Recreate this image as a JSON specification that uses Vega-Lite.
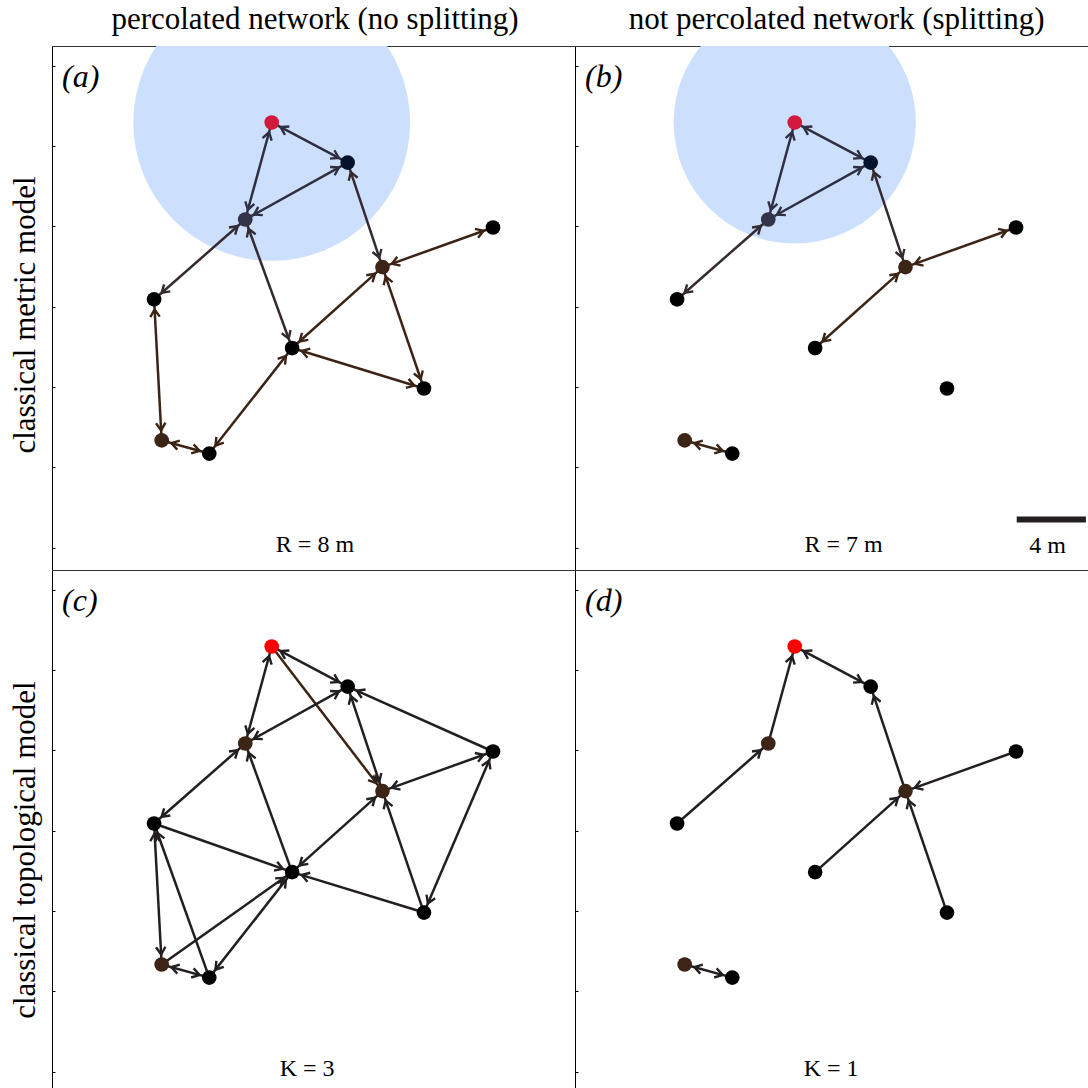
{
  "$schema": "https://vega.github.io/schema/vega-lite/v6.json",
  "padding": {"left": 9, "top": 4, "right": 0, "bottom": 0},
  "config": {
    "font": "Liberation Serif",
    "view": {"stroke": null},
    "concat": {"spacing": 0}
  },
  "datasets": {
    "nodes": [
      {"id": "L", "x": 12.70, "y": 25.87},
      {"id": "N", "x": 17.09, "y": 23.55},
      {"id": "S", "x": 11.17, "y": 20.26},
      {"id": "B1", "x": 19.10, "y": 17.51},
      {"id": "R", "x": 25.49, "y": 19.80},
      {"id": "Lf", "x": 5.90, "y": 15.64},
      {"id": "C", "x": 13.88, "y": 12.83},
      {"id": "RB", "x": 21.50, "y": 10.49},
      {"id": "B2", "x": 6.34, "y": 7.49},
      {"id": "Bt", "x": 9.09, "y": 6.73}
    ],
    "states": [
      {"p": "a", "id": "L", "kind": "crimson"}, {"p": "a", "id": "N", "kind": "navy"}, {"p": "a", "id": "S", "kind": "slate"}, {"p": "a", "id": "B1", "kind": "brown"}, {"p": "a", "id": "R", "kind": "black"},
      {"p": "a", "id": "Lf", "kind": "black"}, {"p": "a", "id": "C", "kind": "black"}, {"p": "a", "id": "RB", "kind": "black"}, {"p": "a", "id": "B2", "kind": "brown"}, {"p": "a", "id": "Bt", "kind": "black"},
      {"p": "b", "id": "L", "kind": "crimson"}, {"p": "b", "id": "N", "kind": "navy"}, {"p": "b", "id": "S", "kind": "slate"}, {"p": "b", "id": "B1", "kind": "brown"}, {"p": "b", "id": "R", "kind": "black"},
      {"p": "b", "id": "Lf", "kind": "black"}, {"p": "b", "id": "C", "kind": "black"}, {"p": "b", "id": "RB", "kind": "black"}, {"p": "b", "id": "B2", "kind": "brown"}, {"p": "b", "id": "Bt", "kind": "black"},
      {"p": "c", "id": "L", "kind": "red"}, {"p": "c", "id": "N", "kind": "black"}, {"p": "c", "id": "S", "kind": "brown"}, {"p": "c", "id": "B1", "kind": "brown"}, {"p": "c", "id": "R", "kind": "black"},
      {"p": "c", "id": "Lf", "kind": "black"}, {"p": "c", "id": "C", "kind": "black"}, {"p": "c", "id": "RB", "kind": "black"}, {"p": "c", "id": "B2", "kind": "brown"}, {"p": "c", "id": "Bt", "kind": "black"},
      {"p": "d", "id": "L", "kind": "red"}, {"p": "d", "id": "N", "kind": "black"}, {"p": "d", "id": "S", "kind": "brown"}, {"p": "d", "id": "B1", "kind": "brown"}, {"p": "d", "id": "R", "kind": "black"},
      {"p": "d", "id": "Lf", "kind": "black"}, {"p": "d", "id": "C", "kind": "black"}, {"p": "d", "id": "RB", "kind": "black"}, {"p": "d", "id": "B2", "kind": "brown"}, {"p": "d", "id": "Bt", "kind": "black"}
    ],
    "edges": [
      {"p": "a", "s": "L", "t": "N", "d": 2, "kind": "eslate"},
      {"p": "a", "s": "L", "t": "S", "d": 2, "kind": "eslate"},
      {"p": "a", "s": "N", "t": "S", "d": 2, "kind": "eslate"},
      {"p": "a", "s": "N", "t": "B1", "d": 2, "kind": "emix"},
      {"p": "a", "s": "S", "t": "Lf", "d": 2, "kind": "emix"},
      {"p": "a", "s": "S", "t": "C", "d": 2, "kind": "emix"},
      {"p": "a", "s": "B1", "t": "R", "d": 2, "kind": "ebrown"},
      {"p": "a", "s": "B1", "t": "C", "d": 2, "kind": "ebrown"},
      {"p": "a", "s": "B1", "t": "RB", "d": 2, "kind": "ebrown"},
      {"p": "a", "s": "C", "t": "RB", "d": 2, "kind": "ebrown"},
      {"p": "a", "s": "C", "t": "Bt", "d": 2, "kind": "ebrown"},
      {"p": "a", "s": "Lf", "t": "B2", "d": 2, "kind": "ebrown"},
      {"p": "a", "s": "B2", "t": "Bt", "d": 2, "kind": "ebrown"},
      {"p": "b", "s": "L", "t": "N", "d": 2, "kind": "eslate"},
      {"p": "b", "s": "L", "t": "S", "d": 2, "kind": "eslate"},
      {"p": "b", "s": "N", "t": "S", "d": 2, "kind": "eslate"},
      {"p": "b", "s": "N", "t": "B1", "d": 2, "kind": "emix"},
      {"p": "b", "s": "S", "t": "Lf", "d": 2, "kind": "emix"},
      {"p": "b", "s": "B1", "t": "R", "d": 2, "kind": "ebrown"},
      {"p": "b", "s": "B1", "t": "C", "d": 2, "kind": "ebrown"},
      {"p": "b", "s": "B2", "t": "Bt", "d": 2, "kind": "ebrown"},
      {"p": "c", "s": "L", "t": "N", "d": 2, "kind": "eblack"},
      {"p": "c", "s": "L", "t": "S", "d": 2, "kind": "eblack"},
      {"p": "c", "s": "L", "t": "B1", "d": 1, "kind": "ebrown"},
      {"p": "c", "s": "N", "t": "S", "d": 2, "kind": "eblack"},
      {"p": "c", "s": "R", "t": "N", "d": 1, "kind": "eblack"},
      {"p": "c", "s": "N", "t": "B1", "d": 2, "kind": "eblack"},
      {"p": "c", "s": "S", "t": "Lf", "d": 2, "kind": "eblack"},
      {"p": "c", "s": "C", "t": "S", "d": 1, "kind": "eblack"},
      {"p": "c", "s": "B1", "t": "R", "d": 2, "kind": "eblack"},
      {"p": "c", "s": "B1", "t": "C", "d": 2, "kind": "eblack"},
      {"p": "c", "s": "RB", "t": "B1", "d": 1, "kind": "eblack"},
      {"p": "c", "s": "R", "t": "RB", "d": 2, "kind": "eblack"},
      {"p": "c", "s": "RB", "t": "C", "d": 1, "kind": "eblack"},
      {"p": "c", "s": "Lf", "t": "C", "d": 1, "kind": "eblack"},
      {"p": "c", "s": "Lf", "t": "B2", "d": 2, "kind": "eblack"},
      {"p": "c", "s": "Bt", "t": "Lf", "d": 1, "kind": "eblack"},
      {"p": "c", "s": "B2", "t": "C", "d": 1, "kind": "eblack"},
      {"p": "c", "s": "Bt", "t": "C", "d": 2, "kind": "eblack"},
      {"p": "c", "s": "B2", "t": "Bt", "d": 2, "kind": "eblack"},
      {"p": "d", "s": "L", "t": "N", "d": 2, "kind": "eblack"},
      {"p": "d", "s": "S", "t": "L", "d": 1, "kind": "eblack"},
      {"p": "d", "s": "Lf", "t": "S", "d": 1, "kind": "eblack"},
      {"p": "d", "s": "B1", "t": "N", "d": 1, "kind": "eblack"},
      {"p": "d", "s": "R", "t": "B1", "d": 1, "kind": "eblack"},
      {"p": "d", "s": "C", "t": "B1", "d": 1, "kind": "eblack"},
      {"p": "d", "s": "RB", "t": "B1", "d": 1, "kind": "eblack"},
      {"p": "d", "s": "B2", "t": "Bt", "d": 2, "kind": "eblack"}
    ],
    "circles": [
      {"p": "a", "c": "L", "R": 8},
      {"p": "b", "c": "L", "R": 7}
    ],
    "panels": [
      {"p": "a", "tag": "(a)", "note": "R = 8 m", "head": "percolated network (no splitting)", "side": "classical metric model"},
      {"p": "b", "tag": "(b)", "note": "R = 7 m", "head": "not percolated network (splitting)", "side": ""},
      {"p": "c", "tag": "(c)", "note": "K = 3", "head": "", "side": "classical topological model"},
      {"p": "d", "tag": "(d)", "note": "K = 1", "head": "", "side": ""}
    ],
    "bar": [{"len": 4, "label": "4 m"}]
  },
  "spacing": 0,
  "vconcat": [
    {
      "spacing": 0,
      "bounds": "flush",
      "hconcat": [
        {
          "width": 523, "height": 524,
          "encoding": {
            "color": {"field": "kind", "type": "nominal", "legend": null, "scale": {"domain": ["crimson", "navy", "slate", "brown", "black", "red", "eslate", "emix", "ebrown", "eblack"], "range": ["#d31a3c", "#04122c", "#33334a", "#3c2416", "#000000", "#ff0000", "#2f2f42", "#352a32", "#3b2415", "#231f20"]}}
          },
          "layer": [
            {"data": {"name": "circles"}, "transform": [{"filter": "datum.p == 'a'"}, {"lookup": "c", "from": {"data": {"name": "nodes"}, "key": "id", "fields": ["x", "y"]}}],
             "mark": {"type": "point", "shape": "circle", "filled": true, "opacity": 1, "clip": true},
             "encoding": {
               "x": {"field": "x", "type": "quantitative", "scale": {"domain": [0, 30.23], "nice": false, "zero": false}},
               "y": {"field": "y", "type": "quantitative", "scale": {"domain": [0, 30.29], "nice": false, "zero": false}},
               "color": {"value": "#cce0fd"}, "size": {"field": "R", "type": "quantitative", "legend": null, "scale": {"type": "pow", "exponent": 2, "domain": [0, 8], "range": [0, 76620]}}}},
            {"data": {"name": "edges"}, "transform": [{"filter": "datum.p == 'a'"}, {"lookup": "s", "from": {"data": {"name": "nodes"}, "key": "id", "fields": ["x", "y"]}}, {"lookup": "t", "from": {"data": {"name": "nodes"}, "key": "id", "fields": ["x", "y"]}, "as": ["x2", "y2"]}],
             "mark": {"type": "rule", "strokeWidth": 2.5},
             "encoding": {
               "x": {"field": "x", "type": "quantitative", "scale": {"domain": [0, 30.23], "nice": false, "zero": false}},
               "y": {"field": "y", "type": "quantitative", "scale": {"domain": [0, 30.29], "nice": false, "zero": false}},
               "x2": {"field": "x2"}, "y2": {"field": "y2"}}},
            {"data": {"name": "edges"}, "transform": [{"filter": "datum.p == 'a'"}, {"fold": ["s", "t"], "as": ["end", "node"]}, {"filter": "datum.end == 't' || datum.d == 2"}, {"calculate": "datum.end == 't' ? datum.s : datum.t", "as": "other"}, {"lookup": "node", "from": {"data": {"name": "nodes"}, "key": "id", "fields": ["x", "y"]}}, {"lookup": "other", "from": {"data": {"name": "nodes"}, "key": "id", "fields": ["x", "y"]}, "as": ["ox", "oy"]}, {"calculate": "atan2(datum.ox - datum.x, datum.oy - datum.y) * 180 / PI", "as": "ang"}],
             "mark": {"type": "point", "shape": "M-0.47,-1.75L0,-1L0.47,-1.75", "filled": false, "opacity": 1, "strokeWidth": 2.4, "size": 400, "strokeJoin": "miter"},
             "encoding": {
               "x": {"field": "x", "type": "quantitative", "scale": {"domain": [0, 30.23], "nice": false, "zero": false}},
               "y": {"field": "y", "type": "quantitative", "scale": {"domain": [0, 30.29], "nice": false, "zero": false}},
               "angle": {"field": "ang", "type": "quantitative", "scale": null}}},
            {"data": {"name": "states"}, "transform": [{"filter": "datum.p == 'a'"}, {"lookup": "id", "from": {"data": {"name": "nodes"}, "key": "id", "fields": ["x", "y"]}}],
             "mark": {"type": "point", "shape": "circle", "filled": true, "opacity": 1, "size": 215},
             "encoding": {
               "x": {"field": "x", "type": "quantitative", "scale": {"domain": [0, 30.23], "nice": false, "zero": false}, "axis": {"orient": "top", "ticks": false, "labels": false, "grid": false, "domain": true, "domainColor": "#333", "title": null}},
               "y": {"field": "y", "type": "quantitative", "scale": {"domain": [0, 30.29], "nice": false, "zero": false}, "axis": {"orient": "left", "values": [1.3, 5.94, 10.58, 15.22, 19.86, 24.5, 29.14], "tickSize": -3, "tickColor": "#000", "labels": false, "grid": false, "domain": true, "domainColor": "#000", "title": null}}}},
            {"data": {"name": "panels"}, "transform": [{"filter": "datum.p == 'a'"}],
             "mark": {"type": "text", "fontSize": 32, "fontStyle": "italic", "align": "left", "baseline": "alphabetic"},
             "encoding": {
               "x": {"datum": 0.58, "type": "quantitative", "scale": {"domain": [0, 30.23], "nice": false, "zero": false}},
               "y": {"datum": 27.94, "type": "quantitative", "scale": {"domain": [0, 30.29], "nice": false, "zero": false}},
               "text": {"field": "tag"}, "color": {"value": "#000"}}},
            {"data": {"name": "panels"}, "transform": [{"filter": "datum.p == 'a'"}],
             "mark": {"type": "text", "fontSize": 24, "align": "center", "baseline": "alphabetic"},
             "encoding": {
               "x": {"datum": 15.2, "type": "quantitative", "scale": {"domain": [0, 30.23], "nice": false, "zero": false}},
               "y": {"datum": 1.05, "type": "quantitative", "scale": {"domain": [0, 30.29], "nice": false, "zero": false}},
               "text": {"field": "note"}, "color": {"value": "#000"}}},
            {"data": {"name": "panels"}, "transform": [{"filter": "datum.p == 'a'"}],
             "mark": {"type": "text", "fontSize": 31, "align": "center", "baseline": "alphabetic"},
             "encoding": {
               "x": {"datum": 15.2, "type": "quantitative", "scale": {"domain": [0, 30.23], "nice": false, "zero": false}},
               "y": {"datum": 31.27, "type": "quantitative", "scale": {"domain": [0, 30.29], "nice": false, "zero": false}},
               "text": {"field": "head"}, "color": {"value": "#000"}}},
            {"data": {"name": "panels"}, "transform": [{"filter": "datum.p == 'a'"}],
             "mark": {"type": "text", "fontSize": 31, "align": "center", "baseline": "alphabetic", "angle": 270},
             "encoding": {
               "x": {"datum": -1.0, "type": "quantitative", "scale": {"domain": [0, 30.23], "nice": false, "zero": false}},
               "y": {"datum": 14.74, "type": "quantitative", "scale": {"domain": [0, 30.29], "nice": false, "zero": false}},
               "text": {"field": "side"}, "color": {"value": "#000"}}}
          ]
        },
        {
          "width": 513, "height": 524,
          "encoding": {
            "color": {"field": "kind", "type": "nominal", "legend": null, "scale": {"domain": ["crimson", "navy", "slate", "brown", "black", "red", "eslate", "emix", "ebrown", "eblack"], "range": ["#d31a3c", "#04122c", "#33334a", "#3c2416", "#000000", "#ff0000", "#2f2f42", "#352a32", "#3b2415", "#231f20"]}}
          },
          "layer": [
            {"data": {"name": "circles"}, "transform": [{"filter": "datum.p == 'b'"}, {"lookup": "c", "from": {"data": {"name": "nodes"}, "key": "id", "fields": ["x", "y"]}}],
             "mark": {"type": "point", "shape": "circle", "filled": true, "opacity": 1, "clip": true},
             "encoding": {
               "x": {"field": "x", "type": "quantitative", "scale": {"domain": [0, 29.65], "nice": false, "zero": false}},
               "y": {"field": "y", "type": "quantitative", "scale": {"domain": [0, 30.29], "nice": false, "zero": false}},
               "color": {"value": "#cce0fd"}, "size": {"field": "R", "type": "quantitative", "legend": null, "scale": {"type": "pow", "exponent": 2, "domain": [0, 8], "range": [0, 76620]}}}},
            {"data": {"name": "edges"}, "transform": [{"filter": "datum.p == 'b'"}, {"lookup": "s", "from": {"data": {"name": "nodes"}, "key": "id", "fields": ["x", "y"]}}, {"lookup": "t", "from": {"data": {"name": "nodes"}, "key": "id", "fields": ["x", "y"]}, "as": ["x2", "y2"]}],
             "mark": {"type": "rule", "strokeWidth": 2.5},
             "encoding": {
               "x": {"field": "x", "type": "quantitative", "scale": {"domain": [0, 29.65], "nice": false, "zero": false}},
               "y": {"field": "y", "type": "quantitative", "scale": {"domain": [0, 30.29], "nice": false, "zero": false}},
               "x2": {"field": "x2"}, "y2": {"field": "y2"}}},
            {"data": {"name": "edges"}, "transform": [{"filter": "datum.p == 'b'"}, {"fold": ["s", "t"], "as": ["end", "node"]}, {"filter": "datum.end == 't' || datum.d == 2"}, {"calculate": "datum.end == 't' ? datum.s : datum.t", "as": "other"}, {"lookup": "node", "from": {"data": {"name": "nodes"}, "key": "id", "fields": ["x", "y"]}}, {"lookup": "other", "from": {"data": {"name": "nodes"}, "key": "id", "fields": ["x", "y"]}, "as": ["ox", "oy"]}, {"calculate": "atan2(datum.ox - datum.x, datum.oy - datum.y) * 180 / PI", "as": "ang"}],
             "mark": {"type": "point", "shape": "M-0.47,-1.75L0,-1L0.47,-1.75", "filled": false, "opacity": 1, "strokeWidth": 2.4, "size": 400, "strokeJoin": "miter"},
             "encoding": {
               "x": {"field": "x", "type": "quantitative", "scale": {"domain": [0, 29.65], "nice": false, "zero": false}},
               "y": {"field": "y", "type": "quantitative", "scale": {"domain": [0, 30.29], "nice": false, "zero": false}},
               "angle": {"field": "ang", "type": "quantitative", "scale": null}}},
            {"data": {"name": "states"}, "transform": [{"filter": "datum.p == 'b'"}, {"lookup": "id", "from": {"data": {"name": "nodes"}, "key": "id", "fields": ["x", "y"]}}],
             "mark": {"type": "point", "shape": "circle", "filled": true, "opacity": 1, "size": 215},
             "encoding": {
               "x": {"field": "x", "type": "quantitative", "scale": {"domain": [0, 29.65], "nice": false, "zero": false}, "axis": {"orient": "top", "ticks": false, "labels": false, "grid": false, "domain": true, "domainColor": "#333", "title": null}},
               "y": {"field": "y", "type": "quantitative", "scale": {"domain": [0, 30.29], "nice": false, "zero": false}, "axis": {"orient": "left", "values": [1.3, 5.94, 10.58, 15.22, 19.86, 24.5, 29.14], "tickSize": -3, "tickColor": "#000", "labels": false, "grid": false, "domain": true, "domainColor": "#000", "title": null}}}},
            {"data": {"name": "panels"}, "transform": [{"filter": "datum.p == 'b'"}],
             "mark": {"type": "text", "fontSize": 32, "fontStyle": "italic", "align": "left", "baseline": "alphabetic"},
             "encoding": {
               "x": {"datum": 0.58, "type": "quantitative", "scale": {"domain": [0, 29.65], "nice": false, "zero": false}},
               "y": {"datum": 27.94, "type": "quantitative", "scale": {"domain": [0, 30.29], "nice": false, "zero": false}},
               "text": {"field": "tag"}, "color": {"value": "#000"}}},
            {"data": {"name": "panels"}, "transform": [{"filter": "datum.p == 'b'"}],
             "mark": {"type": "text", "fontSize": 24, "align": "center", "baseline": "alphabetic"},
             "encoding": {
               "x": {"datum": 15.52, "type": "quantitative", "scale": {"domain": [0, 29.65], "nice": false, "zero": false}},
               "y": {"datum": 1.05, "type": "quantitative", "scale": {"domain": [0, 30.29], "nice": false, "zero": false}},
               "text": {"field": "note"}, "color": {"value": "#000"}}},
            {"data": {"name": "panels"}, "transform": [{"filter": "datum.p == 'b'"}],
             "mark": {"type": "text", "fontSize": 31, "align": "center", "baseline": "alphabetic"},
             "encoding": {
               "x": {"datum": 15.12, "type": "quantitative", "scale": {"domain": [0, 29.65], "nice": false, "zero": false}},
               "y": {"datum": 31.27, "type": "quantitative", "scale": {"domain": [0, 30.29], "nice": false, "zero": false}},
               "text": {"field": "head"}, "color": {"value": "#000"}}},
            {"data": {"name": "bar"},
             "mark": {"type": "rule", "strokeWidth": 6, "strokeCap": "butt"},
             "encoding": {
               "x": {"datum": 25.53, "type": "quantitative", "scale": {"domain": [0, 29.65], "nice": false, "zero": false}},
               "x2": {"datum": 29.53},
               "y": {"datum": 2.92, "type": "quantitative", "scale": {"domain": [0, 30.29], "nice": false, "zero": false}},
               "color": {"value": "#231f20"}}},
            {"data": {"name": "bar"},
             "mark": {"type": "text", "fontSize": 24, "align": "center", "baseline": "alphabetic"},
             "encoding": {
               "x": {"datum": 27.31, "type": "quantitative", "scale": {"domain": [0, 29.65], "nice": false, "zero": false}},
               "y": {"datum": 0.98, "type": "quantitative", "scale": {"domain": [0, 30.29], "nice": false, "zero": false}},
               "text": {"field": "label"}, "color": {"value": "#000"}}}
          ]
        }
      ]
    },
    {
      "spacing": 0,
      "bounds": "flush",
      "hconcat": [
        {
          "width": 523, "height": 518,
          "encoding": {
            "color": {"field": "kind", "type": "nominal", "legend": null, "scale": {"domain": ["crimson", "navy", "slate", "brown", "black", "red", "eslate", "emix", "ebrown", "eblack"], "range": ["#d31a3c", "#04122c", "#33334a", "#3c2416", "#000000", "#ff0000", "#2f2f42", "#352a32", "#3b2415", "#231f20"]}}
          },
          "layer": [
            {"data": {"name": "edges"}, "transform": [{"filter": "datum.p == 'c'"}, {"lookup": "s", "from": {"data": {"name": "nodes"}, "key": "id", "fields": ["x", "y"]}}, {"lookup": "t", "from": {"data": {"name": "nodes"}, "key": "id", "fields": ["x", "y"]}, "as": ["x2", "y2"]}],
             "mark": {"type": "rule", "strokeWidth": 2.5},
             "encoding": {
               "x": {"field": "x", "type": "quantitative", "scale": {"domain": [0, 30.23], "nice": false, "zero": false}},
               "y": {"field": "y", "type": "quantitative", "scale": {"domain": [0.35, 30.29], "nice": false, "zero": false}},
               "x2": {"field": "x2"}, "y2": {"field": "y2"}}},
            {"data": {"name": "edges"}, "transform": [{"filter": "datum.p == 'c'"}, {"fold": ["s", "t"], "as": ["end", "node"]}, {"filter": "datum.end == 't' || datum.d == 2"}, {"calculate": "datum.end == 't' ? datum.s : datum.t", "as": "other"}, {"lookup": "node", "from": {"data": {"name": "nodes"}, "key": "id", "fields": ["x", "y"]}}, {"lookup": "other", "from": {"data": {"name": "nodes"}, "key": "id", "fields": ["x", "y"]}, "as": ["ox", "oy"]}, {"calculate": "atan2(datum.ox - datum.x, datum.oy - datum.y) * 180 / PI", "as": "ang"}],
             "mark": {"type": "point", "shape": "M-0.47,-1.75L0,-1L0.47,-1.75", "filled": false, "opacity": 1, "strokeWidth": 2.4, "size": 400, "strokeJoin": "miter"},
             "encoding": {
               "x": {"field": "x", "type": "quantitative", "scale": {"domain": [0, 30.23], "nice": false, "zero": false}},
               "y": {"field": "y", "type": "quantitative", "scale": {"domain": [0.35, 30.29], "nice": false, "zero": false}},
               "angle": {"field": "ang", "type": "quantitative", "scale": null}}},
            {"data": {"name": "states"}, "transform": [{"filter": "datum.p == 'c'"}, {"lookup": "id", "from": {"data": {"name": "nodes"}, "key": "id", "fields": ["x", "y"]}}],
             "mark": {"type": "point", "shape": "circle", "filled": true, "opacity": 1, "size": 215},
             "encoding": {
               "x": {"field": "x", "type": "quantitative", "scale": {"domain": [0, 30.23], "nice": false, "zero": false}, "axis": {"orient": "top", "ticks": false, "labels": false, "grid": false, "domain": true, "domainColor": "#333", "title": null}},
               "y": {"field": "y", "type": "quantitative", "scale": {"domain": [0.35, 30.29], "nice": false, "zero": false}, "axis": {"orient": "left", "values": [1.3, 5.94, 10.58, 15.22, 19.86, 24.5, 29.14], "tickSize": -3, "tickColor": "#000", "labels": false, "grid": false, "domain": true, "domainColor": "#000", "title": null}}}},
            {"data": {"name": "panels"}, "transform": [{"filter": "datum.p == 'c'"}],
             "mark": {"type": "text", "fontSize": 32, "fontStyle": "italic", "align": "left", "baseline": "alphabetic"},
             "encoding": {
               "x": {"datum": 0.58, "type": "quantitative", "scale": {"domain": [0, 30.23], "nice": false, "zero": false}},
               "y": {"datum": 27.94, "type": "quantitative", "scale": {"domain": [0.35, 30.29], "nice": false, "zero": false}},
               "text": {"field": "tag"}, "color": {"value": "#000"}}},
            {"data": {"name": "panels"}, "transform": [{"filter": "datum.p == 'c'"}],
             "mark": {"type": "text", "fontSize": 24, "align": "center", "baseline": "alphabetic"},
             "encoding": {
               "x": {"datum": 14.75, "type": "quantitative", "scale": {"domain": [0, 30.23], "nice": false, "zero": false}},
               "y": {"datum": 1.05, "type": "quantitative", "scale": {"domain": [0.35, 30.29], "nice": false, "zero": false}},
               "text": {"field": "note"}, "color": {"value": "#000"}}},
            {"data": {"name": "panels"}, "transform": [{"filter": "datum.p == 'c'"}],
             "mark": {"type": "text", "fontSize": 31, "align": "center", "baseline": "alphabetic", "angle": 270},
             "encoding": {
               "x": {"datum": -1.0, "type": "quantitative", "scale": {"domain": [0, 30.23], "nice": false, "zero": false}},
               "y": {"datum": 14.1, "type": "quantitative", "scale": {"domain": [0.35, 30.29], "nice": false, "zero": false}},
               "text": {"field": "side"}, "color": {"value": "#000"}}}
          ]
        },
        {
          "width": 513, "height": 518,
          "encoding": {
            "color": {"field": "kind", "type": "nominal", "legend": null, "scale": {"domain": ["crimson", "navy", "slate", "brown", "black", "red", "eslate", "emix", "ebrown", "eblack"], "range": ["#d31a3c", "#04122c", "#33334a", "#3c2416", "#000000", "#ff0000", "#2f2f42", "#352a32", "#3b2415", "#231f20"]}}
          },
          "layer": [
            {"data": {"name": "edges"}, "transform": [{"filter": "datum.p == 'd'"}, {"lookup": "s", "from": {"data": {"name": "nodes"}, "key": "id", "fields": ["x", "y"]}}, {"lookup": "t", "from": {"data": {"name": "nodes"}, "key": "id", "fields": ["x", "y"]}, "as": ["x2", "y2"]}],
             "mark": {"type": "rule", "strokeWidth": 2.5},
             "encoding": {
               "x": {"field": "x", "type": "quantitative", "scale": {"domain": [0, 29.65], "nice": false, "zero": false}},
               "y": {"field": "y", "type": "quantitative", "scale": {"domain": [0.35, 30.29], "nice": false, "zero": false}},
               "x2": {"field": "x2"}, "y2": {"field": "y2"}}},
            {"data": {"name": "edges"}, "transform": [{"filter": "datum.p == 'd'"}, {"fold": ["s", "t"], "as": ["end", "node"]}, {"filter": "datum.end == 't' || datum.d == 2"}, {"calculate": "datum.end == 't' ? datum.s : datum.t", "as": "other"}, {"lookup": "node", "from": {"data": {"name": "nodes"}, "key": "id", "fields": ["x", "y"]}}, {"lookup": "other", "from": {"data": {"name": "nodes"}, "key": "id", "fields": ["x", "y"]}, "as": ["ox", "oy"]}, {"calculate": "atan2(datum.ox - datum.x, datum.oy - datum.y) * 180 / PI", "as": "ang"}],
             "mark": {"type": "point", "shape": "M-0.47,-1.75L0,-1L0.47,-1.75", "filled": false, "opacity": 1, "strokeWidth": 2.4, "size": 400, "strokeJoin": "miter"},
             "encoding": {
               "x": {"field": "x", "type": "quantitative", "scale": {"domain": [0, 29.65], "nice": false, "zero": false}},
               "y": {"field": "y", "type": "quantitative", "scale": {"domain": [0.35, 30.29], "nice": false, "zero": false}},
               "angle": {"field": "ang", "type": "quantitative", "scale": null}}},
            {"data": {"name": "states"}, "transform": [{"filter": "datum.p == 'd'"}, {"lookup": "id", "from": {"data": {"name": "nodes"}, "key": "id", "fields": ["x", "y"]}}],
             "mark": {"type": "point", "shape": "circle", "filled": true, "opacity": 1, "size": 215},
             "encoding": {
               "x": {"field": "x", "type": "quantitative", "scale": {"domain": [0, 29.65], "nice": false, "zero": false}, "axis": {"orient": "top", "ticks": false, "labels": false, "grid": false, "domain": true, "domainColor": "#333", "title": null}},
               "y": {"field": "y", "type": "quantitative", "scale": {"domain": [0.35, 30.29], "nice": false, "zero": false}, "axis": {"orient": "left", "values": [1.3, 5.94, 10.58, 15.22, 19.86, 24.5, 29.14], "tickSize": -3, "tickColor": "#000", "labels": false, "grid": false, "domain": true, "domainColor": "#000", "title": null}}}},
            {"data": {"name": "panels"}, "transform": [{"filter": "datum.p == 'd'"}],
             "mark": {"type": "text", "fontSize": 32, "fontStyle": "italic", "align": "left", "baseline": "alphabetic"},
             "encoding": {
               "x": {"datum": 0.58, "type": "quantitative", "scale": {"domain": [0, 29.65], "nice": false, "zero": false}},
               "y": {"datum": 27.94, "type": "quantitative", "scale": {"domain": [0.35, 30.29], "nice": false, "zero": false}},
               "text": {"field": "tag"}, "color": {"value": "#000"}}},
            {"data": {"name": "panels"}, "transform": [{"filter": "datum.p == 'd'"}],
             "mark": {"type": "text", "fontSize": 24, "align": "center", "baseline": "alphabetic"},
             "encoding": {
               "x": {"datum": 14.8, "type": "quantitative", "scale": {"domain": [0, 29.65], "nice": false, "zero": false}},
               "y": {"datum": 1.05, "type": "quantitative", "scale": {"domain": [0.35, 30.29], "nice": false, "zero": false}},
               "text": {"field": "note"}, "color": {"value": "#000"}}}
          ]
        }
      ]
    }
  ]
}
